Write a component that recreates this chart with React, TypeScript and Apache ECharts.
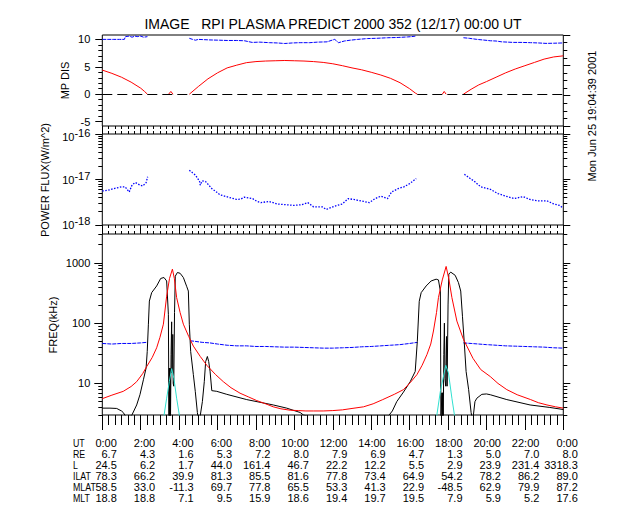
import React, { useEffect, useRef } from 'react';
import * as echarts from 'echarts';

const FONT = '"Liberation Sans", Arial, sans-serif';

const TITLE = 'IMAGE   RPI PLASMA PREDICT 2000 352 (12/17) 00:00 UT';
const STAMP = 'Mon Jun 25 19:04:39 2001';
const PANEL_NAMES = ['MP DIS', 'POWER FLUX(W/m^2)', 'FREQ(kHz)'];

// Table below the plot
const ROW_NAMES = ['UT', 'RE', 'L', 'ILAT', 'MLAT', 'MLT'];
const utRow = ['0:00', '2:00', '4:00', '6:00', '8:00', '10:00', '12:00', '14:00', '16:00', '18:00', '20:00', '22:00', '0:00'];
const reRow = ['6.7', '4.3', '1.6', '5.3', '7.2', '8.0', '7.9', '6.9', '4.7', '1.3', '5.0', '7.0', '8.0'];
const lRow = ['24.5', '6.2', '1.7', '44.0', '161.4', '46.7', '22.2', '12.2', '5.5', '2.9', '23.9', '231.4', '3318.3'];
const ilatRow = ['78.3', '66.2', '39.9', '81.3', '85.5', '81.6', '77.8', '73.4', '64.9', '54.2', '78.2', '86.2', '89.0'];
const mlatRow = ['58.5', '33.0', '-11.3', '69.7', '77.8', '65.5', '53.3', '41.3', '22.9', '-48.5', '62.9', '79.9', '87.2'];
const mltRow = ['18.8', '18.8', '7.1', '9.5', '15.9', '18.6', '19.4', '19.7', '19.5', '7.9', '5.9', '5.2', '17.6'];
const TABLE_ROWS = [utRow, reRow, lRow, ilatRow, mlatRow, mltRow];

// Panel 1: MP DIS (hour, value)
const mpBlue: (number | null)[][] = [
  [0, 10.0], [0.3, 10.0], [0.6, 10.0], [0.9, 10.0], [1.15, 10.0], [1.2, 10.5], [1.4, 10.6], [1.55, 10.4], [1.7, 10.6],
  [1.85, 10.5], [2.0, 10.6], [2.15, 10.4], [2.35, 10.5], [2.4, null],
  [4.53, 10.2], [4.7, 10.0], [4.85, 9.85], [5.0, 10.0], [5.3, 9.95], [5.6, 9.9], [6.1, 9.85], [6.5, 9.8], [7.0, 9.8],
  [7.4, 9.75], [7.6, 9.6], [7.8, 9.45], [8.2, 9.5], [8.7, 9.4], [9.1, 9.35], [9.5, 9.25], [9.9, 9.35], [10.3, 9.4],
  [10.8, 9.4], [11.2, 9.5], [11.7, 9.55], [12.0, 9.9], [12.1, 10.0], [12.3, 9.4], [12.6, 9.7], [12.9, 9.85], [13.3, 10.0],
  [13.8, 10.15], [14.3, 10.2], [14.85, 10.3], [15.4, 10.35], [15.9, 10.45], [16.1, 10.5], [16.3, 10.6], [16.35, null],
  [18.8, 10.3], [19.1, 10.2], [19.5, 10.0], [19.8, 9.9], [20.2, 9.75], [20.5, 9.7], [20.8, 9.55], [21.1, 9.5],
  [21.4, 9.45], [21.8, 9.45], [22.3, 9.4], [22.7, 9.35], [23.1, 9.27], [23.5, 9.3], [24, 9.35],
];
const mpRed: (number | null)[][] = [
  [0, 4.4], [0.5, 3.8], [1.0, 3.1], [1.5, 2.2], [2.0, 1.1], [2.2, 0.5], [2.35, 0], [2.4, null],
  [3.45, 0], [3.57, 0.5], [3.68, 0], [3.7, null],
  [4.53, 0], [5.0, 1.4], [5.5, 2.8], [6.0, 3.9], [6.5, 4.8], [7.0, 5.3], [7.5, 5.75], [8.0, 5.95], [8.5, 6.05],
  [9.0, 6.1], [9.5, 6.15], [10, 6.1], [10.5, 6.05], [11, 5.95], [11.5, 5.8], [12, 5.55], [12.5, 5.2], [13, 4.8],
  [13.5, 4.45], [14, 4.0], [14.5, 3.5], [15, 2.9], [15.5, 2.1], [16, 1.0], [16.3, 0.2], [16.4, 0], [16.5, null],
  [17.7, 0], [17.8, 0.5], [17.9, 0], [18.0, null],
  [18.8, 0], [19.2, 0.9], [19.6, 1.7], [20, 2.3], [20.5, 3.1], [21, 3.9], [21.5, 4.6], [22, 5.2], [22.5, 5.8],
  [23, 6.4], [23.5, 6.8], [24, 7.0],
];

// Panel 2: power flux (W/m^2)
const fluxBlue: (number | null)[][] = [
  [0, 5.6e-18], [0.3, 5.8e-18], [0.6, 6.3e-18], [1.0, 6.9e-18], [1.19, 6.9e-18], [1.4, 5.3e-18], [1.55, 7.6e-18],
  [1.72, 8.6e-18], [1.97, 7.5e-18], [2.1, 7.2e-18], [2.28, 8.5e-18], [2.36, 1.15e-17], [2.4, null],
  [4.53, 1.6e-17], [4.7, 1.4e-17], [4.85, 1.25e-17], [5.06, 9.2e-18], [5.1, 7.5e-18], [5.2, 9.3e-18], [5.38, 9e-18],
  [5.7, 6.3e-18], [5.9, 5.5e-18], [6.13, 4.6e-18], [6.55, 4.1e-18], [6.98, 3.65e-18], [7.2, 3.7e-18], [7.4, 4.1e-18],
  [7.83, 3.8e-18], [8.05, 3.3e-18], [8.26, 3.1e-18], [8.68, 3.3e-18], [9.1, 2.9e-18], [9.53, 2.8e-18], [9.96, 2.7e-18],
  [10.4, 2.8e-18], [10.7, 3.1e-18], [11.0, 2.5e-18], [11.45, 2.5e-18], [11.66, 2.2e-18], [12.1, 2.6e-18],
  [12.5, 2.9e-18], [12.8, 3.8e-18], [13.15, 3.6e-18], [13.6, 3.3e-18], [13.9, 3.1e-18], [14.2, 3.8e-18],
  [14.5, 4.3e-18], [14.85, 3.8e-18], [15.06, 5.3e-18], [15.4, 6.3e-18], [15.7, 6.9e-18], [16.0, 8.1e-18],
  [16.34, 1.05e-17], [16.4, null],
  [18.85, 1.3e-17], [19.1, 1.09e-17], [19.4, 8.9e-18], [19.7, 6.9e-18], [20.2, 6.1e-18], [20.6, 4.9e-18],
  [21.0, 4.3e-18], [21.45, 3.8e-18], [21.9, 4.2e-18], [22.3, 3.6e-18], [22.7, 3.4e-18], [23.15, 3.4e-18],
  [23.5, 2.9e-18], [23.8, 2.7e-18], [24, 2.35e-18],
];

// Panel 3: frequencies (kHz)
const freqRed: number[][] = [
  [0, 5.6], [0.5, 6.4], [1.09, 7.4], [1.5, 8.9], [1.79, 10.7], [2.1, 14.5], [2.31, 19], [2.6, 27], [2.83, 39],
  [3.0, 58], [3.18, 96], [3.35, 280], [3.5, 550], [3.65, 785], [3.75, 550], [3.87, 265], [4.05, 150], [4.22, 96],
  [4.5, 60], [4.74, 41.6], [5.1, 28], [5.44, 20], [5.9, 14], [6.3, 10.7], [6.7, 8.5], [7.17, 6.9], [7.6, 6],
  [8.04, 5.2], [8.5, 4.6], [8.9, 4.1], [9.3, 3.8], [9.78, 3.6], [10.2, 3.55], [10.6, 3.5], [11.0, 3.5], [11.5, 3.5],
  [12.0, 3.55], [12.5, 3.65], [13.0, 3.85], [13.6, 4.1], [14.1, 4.6], [14.6, 5.4], [15.2, 6.6], [15.68, 7.9],
  [16.05, 10.5], [16.38, 14], [16.65, 20], [16.9, 30], [17.1, 45], [17.24, 74], [17.4, 150], [17.5, 265],
  [17.7, 520], [17.9, 870], [18.05, 520], [18.2, 265], [18.46, 108], [18.8, 54], [19.3, 26], [19.7, 17],
  [20.2, 13], [20.6, 10], [21.06, 7.9], [21.6, 6.5], [22.3, 5.4], [22.7, 4.8], [23.15, 4.4], [23.6, 4.1], [24, 3.9],
];
const freqBlue: (number | null)[][] = [
  [0, 46], [0.5, 45], [1.0, 46], [1.5, 46], [2.0, 47], [2.3, 48], [2.35, null],
  [4.57, 51], [4.8, 50], [5.2, 48], [5.6, 47], [6.0, 45], [6.5, 43], [7.0, 42], [7.5, 42], [8, 41], [8.5, 41],
  [9, 40.5], [9.5, 40], [10, 40], [10.5, 39.5], [11, 39], [11.5, 38.5], [12, 38.5], [12.5, 39], [13, 39.5],
  [13.5, 40.5], [14, 41], [14.5, 42], [15, 43], [15.5, 44], [16, 46], [16.4, 48], [16.45, null],
  [18.8, 47], [19.2, 46], [19.6, 45], [20, 44], [20.5, 43], [21, 42], [21.5, 41.5], [22, 41], [22.5, 40.5],
  [23, 40], [23.5, 39], [24, 38.5],
];
const freqBlack: number[][] = [
  [0, 3.9], [0.4, 3.9], [0.75, 3.85], [1.0, 3.5], [1.09, 3.3], [1.23, 2.8], [1.52, 2.9], [1.79, 4.4], [1.96, 6.5],
  [2.14, 11.5], [2.28, 18], [2.34, 34], [2.4, 96], [2.45, 232], [2.57, 320], [2.83, 413], [3.04, 550], [3.21, 570],
  [3.35, 500], [3.44, 140], [3.47, 2.5], [3.49, 18], [3.51, 2.5], [3.53, 18], [3.55, 2.5], [3.58, 30], [3.61, 105],
  [3.63, 15], [3.67, 65], [3.69, 10], [3.72, 9], [3.76, 150], [3.8, 600], [3.91, 690], [4.05, 670], [4.22, 570],
  [4.4, 400], [4.48, 340], [4.53, 96], [4.6, 34], [4.74, 14], [4.84, 7.4], [4.95, 3.3], [5.0, 2.5], [5.09, 2.8],
  [5.21, 5], [5.31, 10.7], [5.38, 23], [5.47, 28], [5.54, 23], [5.61, 16], [5.7, 7.6], [5.96, 7.4], [6.48, 6.6],
  [7.52, 5.4], [8.9, 4.4], [9.6, 3.9], [10.3, 3.3], [10.47, 3.0], [10.8, 2.8], [14.9, 2.9], [15.1, 3.5],
  [15.33, 5], [15.68, 7.2], [16.03, 10.7], [16.29, 15.8], [16.4, 50], [16.5, 230], [16.6, 320], [16.86, 413],
  [17.12, 500], [17.38, 535], [17.5, 520], [17.6, 340], [17.63, 2.5], [17.68, 7], [17.7, 2.5], [17.72, 7],
  [17.75, 2.5], [17.78, 30], [17.81, 100], [17.84, 12], [17.88, 9], [17.92, 60], [17.95, 9], [18.0, 200],
  [18.04, 650], [18.14, 700], [18.37, 620], [18.54, 470], [18.66, 340], [18.75, 130], [18.84, 50], [18.94, 15.8],
  [19.07, 8], [19.2, 3.3], [19.25, 2.7], [19.32, 3.0], [19.4, 5], [19.5, 5.7], [19.76, 6.6], [20.0, 6.7],
  [20.2, 6.5], [21.06, 5.4], [22.27, 4.4], [23.3, 4.0], [24, 3.7],
];
const freqCyan: (number | null)[][] = [
  [3.18, 2.5], [3.35, 5.7], [3.49, 10.7], [3.61, 17.6], [3.73, 12], [3.87, 5.7], [4.05, 2.5], [4.1, null],
  [17.38, 2.5], [17.6, 7.4], [17.88, 20], [18.02, 15], [18.2, 5.7], [18.37, 2.5],
];

const GRID_LEFT = 102.3;
const GRID_RIGHT = 76.7;

const hoursMajor = Array.from({ length: 13 }, (_, i) => i * 2);
const hoursMinor = Array.from({ length: 73 }, (_, i) => i / 3).filter((h) => Math.abs(h / 2 - Math.round(h / 2)) > 1e-6);

const logMinor = (decades: number[], lo: number, hi: number) => {
  const out: number[] = [];
  decades.forEach((d) => {
    for (let k = 2; k <= 9; k++) {
      const v = Math.log10(k) + d;
      if (v >= lo - 1e-9 && v <= hi + 1e-9) out.push(v);
    }
  });
  return out;
};

const BLACK = '#000000';

function xTicks(grid: number, position: string, vals: number[], len: number) {
  return {
    type: 'value', gridIndex: grid, position, min: 0, max: 24,
    axisLine: { show: false, onZero: false },
    axisTick: { show: true, inside: false, length: len, customValues: vals, lineStyle: { color: BLACK, width: 1 } },
    axisLabel: { show: false }, splitLine: { show: false },
  };
}

function yTicks(grid: number, position: string, min: number, max: number, vals: number[], len: number) {
  return {
    type: 'value', gridIndex: grid, position, min, max,
    axisLine: { show: false, onZero: false },
    axisTick: { show: true, inside: false, length: len, customValues: vals, lineStyle: { color: BLACK, width: 1 } },
    axisLabel: { show: false }, splitLine: { show: false },
  };
}

const labelStyle = { color: BLACK, fontFamily: FONT, fontSize: 11, lineHeight: 10 };

export default function App() {
  const ref = useRef<HTMLDivElement>(null);

  useEffect(() => {
    if (!ref.current) return;
    const chart = echarts.init(ref.current, null, { renderer: 'svg' });

    const lo3 = Math.log10(3);
    const hi3 = Math.log10(3000);

    const xAxis: any[] = [
      xTicks(0, 'bottom', hoursMajor, 5),
      xTicks(0, 'bottom', hoursMinor, 3),
      xTicks(1, 'top', hoursMajor, 5),
      xTicks(1, 'top', hoursMinor, 3),
      xTicks(1, 'bottom', hoursMajor, 5),
      xTicks(1, 'bottom', hoursMinor, 3),
      xTicks(2, 'top', hoursMajor, 5),
      xTicks(2, 'top', hoursMinor, 3),
      xTicks(2, 'bottom', hoursMajor, 15),
      xTicks(2, 'bottom', hoursMinor, 10),
    ];
    TABLE_ROWS.forEach((row, i) => {
      xAxis.push({
        type: 'value', gridIndex: 3, position: 'bottom', offset: i * 11, min: 0, max: 24,
        axisLine: { show: false, onZero: false }, axisTick: { show: false }, splitLine: { show: false },
        axisLabel: {
          show: true, customValues: hoursMajor, align: 'right', verticalAlign: 'middle', margin: 13.3,
          formatter: (v: number) => row[Math.round(v / 2)],
          ...labelStyle,
        },
      });
    });

    const yAxis: any[] = [
      {
        type: 'value', gridIndex: 0, position: 'left', min: -5.8, max: 10.8,
        axisLine: { show: false, onZero: false }, splitLine: { show: false },
        axisTick: { show: true, length: 7, customValues: [-5, 0, 5, 10], lineStyle: { color: BLACK } },
        axisLabel: { show: true, customValues: [-5, 0, 5, 10], margin: 12, ...labelStyle },
      },
      yTicks(0, 'left', -5.8, 10.8, [-4, -3, -2, -1, 1, 2, 3, 4, 6, 7, 8, 9], 4),
      yTicks(0, 'right', 0, 12, [0, 4, 8, 12], 7),
      yTicks(0, 'right', 0, 12, [1, 2, 3, 5, 6, 7, 9, 10, 11], 4),
      {
        type: 'log', logBase: 10, gridIndex: 1, position: 'left', min: 1e-18, max: 1e-16,
        axisLine: { show: false, onZero: false }, splitLine: { show: false }, axisTick: { show: false },
        minorTick: { show: false },
        axisLabel: {
          show: true, margin: 12,
          formatter: (v: number) => {
            const e = Math.round(Math.log10(v));
            return e === -16 ? `{bt|10}{st|${e}}` : `{b|10}{s|${e}}`;
          },
          rich: {
            b: { ...labelStyle, verticalAlign: 'middle' },
            s: { ...labelStyle, verticalAlign: 'middle', padding: [0, 0, 8, 0] },
            bt: { ...labelStyle, verticalAlign: 'middle', padding: [6, 0, 0, 0] },
            st: { ...labelStyle, verticalAlign: 'middle', padding: [0, 0, 2, 0] },
          },
        },
      },
      yTicks(1, 'left', -18, -16, [-18, -17, -16], 7),
      yTicks(1, 'left', -18, -16, logMinor([-18, -17], -18, -16), 4),
      yTicks(1, 'right', -18, -16, [-18, -17, -16], 7),
      yTicks(1, 'right', -18, -16, logMinor([-18, -17], -18, -16), 4),
      {
        type: 'log', logBase: 10, gridIndex: 2, position: 'left', min: 3, max: 3000,
        axisLine: { show: false, onZero: false }, splitLine: { show: false }, axisTick: { show: false },
        minorTick: { show: false },
        axisLabel: {
          show: true, margin: 12, showMinLabel: false, showMaxLabel: false,
          formatter: (v: number) => String(Math.round(v)),
          ...labelStyle,
        },
      },
      yTicks(2, 'left', lo3, hi3, [1, 2, 3], 8),
      yTicks(2, 'left', lo3, hi3, logMinor([0, 1, 2, 3], lo3, hi3), 4),
      yTicks(2, 'right', lo3, hi3, [1, 2, 3], 7),
      yTicks(2, 'right', lo3, hi3, logMinor([0, 1, 2, 3], lo3, hi3), 4),
      { type: 'value', gridIndex: 3, show: false, min: 0, max: 1 },
    ];

    const gridBox = { show: true, borderColor: BLACK, borderWidth: 1, backgroundColor: 'transparent' };

    const line = (name: string, data: any[], xi: number, yi: number, color: string, type: any = 'solid', width = 1, z = 2) => ({
      name, type: 'line', data, xAxisIndex: xi, yAxisIndex: yi, showSymbol: false, symbol: 'none',
      connectNulls: false, clip: true, z,
      lineStyle: { color, width, type },
    });

    const mpRedSeries: any = line('MP DIS', mpRed, 0, 0, '#ff0000');
    mpRedSeries.markLine = {
      silent: true, symbol: ['none', 'none'], label: { show: false },
      lineStyle: { color: BLACK, type: [10, 5], width: 1 },
      data: [{ yAxis: 0 }],
    };

    const txt = { fontSize: 11, fontFamily: FONT, fill: BLACK };

    chart.setOption({
      animation: false,
      backgroundColor: '#ffffff',
      textStyle: { fontFamily: FONT },
      grid: [
        { left: GRID_LEFT, right: GRID_RIGHT, top: 35, height: 91, ...gridBox },
        { left: GRID_LEFT, right: GRID_RIGHT, top: 134, height: 91, ...gridBox },
        { left: GRID_LEFT, right: GRID_RIGHT, top: 234, height: 181, ...gridBox },
        { left: GRID_LEFT + 14.5, width: 461, top: 420, height: 10, show: false },
      ],
      xAxis,
      yAxis,
      series: [
        line('MP blue', mpBlue, 0, 0, '#0000ff', [4, 1]),
        mpRedSeries,
        line('Power flux', fluxBlue, 4, 4, '#0000ff', [1.5, 1.5], 1.3),
        line('Freq blue', freqBlue, 8, 9, '#0000ff', [4, 1]),
        line('Freq black', freqBlack, 8, 9, BLACK),
        line('Freq cyan', freqCyan, 8, 9, '#30e0d0'),
        line('Freq red', freqRed, 8, 9, '#ff0000', 'solid', 1, 3),
      ],
      graphic: [
        { type: 'text', x: 333, y: 24, style: { ...txt, text: TITLE, align: 'center', verticalAlign: 'middle', fontSize: 14 } },
        { type: 'text', x: 64.5, y: 80.5, rotation: Math.PI / 2, style: { ...txt, text: PANEL_NAMES[0], align: 'center', verticalAlign: 'middle' } },
        { type: 'text', x: 45, y: 180, rotation: Math.PI / 2, style: { ...txt, text: PANEL_NAMES[1], align: 'center', verticalAlign: 'middle' } },
        { type: 'text', x: 53, y: 325, rotation: Math.PI / 2, style: { ...txt, text: PANEL_NAMES[2], align: 'center', verticalAlign: 'middle' } },
        { type: 'text', x: 592, y: 116, rotation: Math.PI / 2, style: { ...txt, text: STAMP, align: 'center', verticalAlign: 'middle' } },
        ...ROW_NAMES.map((n, i) => ({
          type: 'text', x: 73, y: 443.3 + 11 * i, scaleX: 0.8,
          style: { ...txt, text: n, align: 'left', verticalAlign: 'middle' },
        })),
      ],
    });

    return () => chart.dispose();
  }, []);

  return <div ref={ref} style={{ position: 'fixed', left: 0, top: 0, width: 640, height: 512, background: '#fff' }} />;
}
